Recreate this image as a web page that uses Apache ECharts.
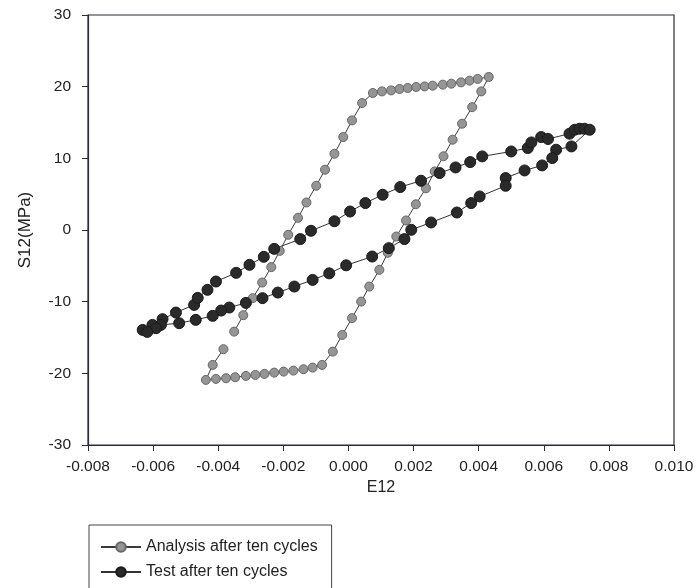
<!DOCTYPE html>
<html style="height: 100%">
<head>
	<meta charset="utf-8">
</head>
<body style="height: 100%; margin: 0; background: #fff">
<div id="container" style="height: 100%"></div>
<script type="text/javascript" src="https://cdn.jsdelivr.net/npm/echarts@6/dist/echarts.min.js"></script>
<script type="text/javascript">
    // analysis after ten cycles
    var analysisE12 = [-0.00351, -0.00323, -0.00294, -0.00265, -0.00237, -0.00211, -0.00185, -0.00155, -0.00129, -0.00099,
        -0.00072, -0.00043, -0.00016, 0.00011, 0.00042,
        0.00075, 0.00103, 0.00131, 0.00157, 0.00182, 0.00208, 0.00234, 0.00259, 0.00290, 0.00316, 0.00346, 0.00372, 0.00397, 0.00431,
        0.00408, 0.00380, 0.00349, 0.00320, 0.00292, 0.00265, 0.00238, 0.00207, 0.00177, 0.00147, 0.00121, 0.00095, 0.00064,
        0.00039, 0.00011, -0.00019, -0.00048,
        -0.00081, -0.00110, -0.00138, -0.00169, -0.00199, -0.00228, -0.00258, -0.00286, -0.00315, -0.00348, -0.00376, -0.00407, -0.00438,
        -0.00417, -0.00384];
    var analysisS12 = [-14.18, -11.89, -9.51, -7.33, -5.18, -2.91, -0.67, 1.70, 3.84, 6.17,
        8.41, 10.64, 12.97, 15.29, 17.72,
        19.12, 19.34, 19.48, 19.68, 19.82, 19.96, 20.04, 20.14, 20.28, 20.42, 20.60, 20.84, 21.08, 21.35,
        19.34, 17.14, 14.83, 12.60, 10.29, 8.17, 5.82, 3.59, 1.33, -0.91, -3.18, -5.56, -7.89,
        -9.99, -12.30, -14.64, -16.97,
        -18.83, -19.20, -19.43, -19.62, -19.76, -19.90, -20.08, -20.22, -20.36, -20.54, -20.68, -20.78, -20.92,
        -18.83, -16.63];

    // test after ten cycles
    var testE12 = [-0.00632, -0.00602, -0.00571, -0.00530, -0.00474, -0.00463, -0.00433, -0.00407, -0.00345, -0.00304,
        -0.00260, -0.00228, -0.00148, -0.00115, -0.00043, 0.00005, 0.00052, 0.00105, 0.00159, 0.00223,
        0.00280, 0.00329, 0.00374, 0.00411, 0.00500, 0.00551, 0.00562, 0.00592, 0.00613,
        0.00679, 0.00695, 0.00710, 0.00725, 0.00741,
        0.00685, 0.00638, 0.00626, 0.00595, 0.00541, 0.00483, 0.00483, 0.00403, 0.00377, 0.00333,
        0.00254, 0.00193, 0.00172, 0.00124, 0.00073, -0.00007, -0.00059, -0.00110, -0.00166, -0.00217,
        -0.00264, -0.00315, -0.00366, -0.00391, -0.00417, -0.00469, -0.00520, -0.00576, -0.00591, -0.00618];
    var testS12 = [-13.94, -13.24, -12.44, -11.52, -10.45, -9.47, -8.35, -7.19, -5.98, -4.86,
        -3.74, -2.63, -1.27, -0.11, 1.22, 2.58, 3.76, 4.92, 5.99, 6.87,
        7.95, 8.73, 9.48, 10.27, 10.96, 11.44, 12.22, 12.97, 12.70,
        13.44, 13.99, 14.13, 14.13, 13.99,
        11.66, 11.20, 10.04, 9.01, 8.31, 7.25, 6.17, 4.68, 3.76, 2.44,
        1.05, 0.03, -1.27, -2.53, -3.70, -4.93, -6.05, -6.96, -7.89, -8.73,
        -9.51, -10.17, -10.82, -11.24, -11.98, -12.54, -13.00, -13.24, -13.70, -14.22];

    var seriesNames = ['Analysis after ten cycles', 'Test after ten cycles'];

    function pairs(xs, ys) {
        var out = [];
        for (var i = 0; i < xs.length; i++) {
            out.push([xs[i], ys[i]]);
        }
        return out;
    }

    var dom = document.getElementById("container");
    var myChart = echarts.init(dom);
    var axisColor = '#2b2b3a';
    var fontFamily = 'Liberation Sans, Arial, sans-serif';
    var textStyle = {color: '#222', fontFamily: fontFamily, fontSize: 15.5};

    var option = {
        backgroundColor: '#fff',
        animation: false,
        grid: {
            left: 88, right: 23, top: 15, bottom: 143,
            show: true, borderColor: axisColor, borderWidth: 1.2,
            containLabel: false
        },
        legend: {
            orient: 'vertical',
            left: 89, top: 525,
            width: 320, height: 80,
            padding: [14, 14, 22, 11],
            itemWidth: 40, itemHeight: 12, itemGap: 9,
            borderColor: '#444', borderWidth: 1,
            textStyle: {color: '#222', fontFamily: fontFamily, fontSize: 16},
            data: seriesNames
        },
        xAxis: {
            type: 'value',
            min: -0.008, max: 0.010, interval: 0.002,
            name: 'E12', nameLocation: 'middle', nameGap: 29,
            nameTextStyle: {color: '#222', fontFamily: fontFamily, fontSize: 16},
            axisLine: {onZero: false, lineStyle: {color: axisColor, width: 1.2}},
            axisTick: {show: true, length: 6, lineStyle: {color: axisColor}},
            splitLine: {show: false},
            axisLabel: Object.assign({
                margin: 14,
                formatter: function (v) {
                    if (Math.abs(v) < 1e-9) v = 0;
                    return v.toFixed(3);
                }
            }, textStyle)
        },
        yAxis: {
            type: 'value',
            min: -30, max: 30, interval: 10,
            name: 'S12(MPa)', nameLocation: 'middle', nameGap: 54,
            nameTextStyle: {color: '#222', fontFamily: fontFamily, fontSize: 17},
            axisLine: {onZero: false, lineStyle: {color: axisColor, width: 1.2}},
            axisTick: {show: true, length: 6, lineStyle: {color: axisColor}},
            splitLine: {show: false},
            axisLabel: Object.assign({margin: 17}, textStyle)
        },
        series: [{
            name: seriesNames[0],
            type: 'line',
            data: pairs(analysisE12, analysisS12),
            symbol: 'circle',
            symbolSize: 9,
            lineStyle: {color: '#3a3a3a', width: 1},
            itemStyle: {color: '#959595', borderColor: '#666', borderWidth: 1}
        }, {
            name: seriesNames[1],
            type: 'line',
            data: pairs(testE12, testS12),
            symbol: 'circle',
            symbolSize: 11,
            lineStyle: {color: '#333', width: 1},
            itemStyle: {color: '#2a2a2a', borderColor: '#1a1a1a', borderWidth: 1}
        }]
    };

    myChart.setOption(option);
    window.addEventListener('resize', function () {
        myChart.resize();
    });
</script>
</body>
</html>
